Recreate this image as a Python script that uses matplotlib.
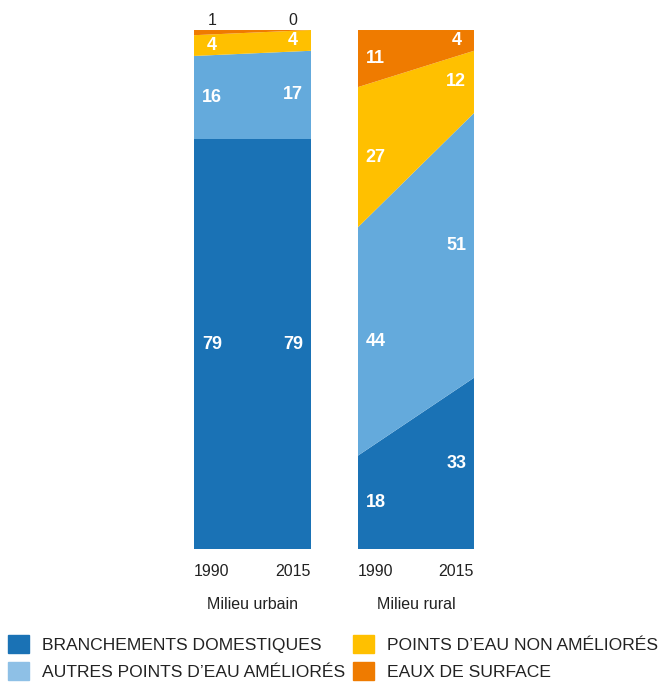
import matplotlib.pyplot as plt
from matplotlib.patches import Patch

plt.rcParams['font.family'] = ['Liberation Sans', 'DejaVu Sans']

# Données (%) 1990 et 2015
years = [1990, 2015]
categories = ["BRANCHEMENTS DOMESTIQUES", "AUTRES POINTS D\u2019EAU AMÉLIORÉS",
              "POINTS D\u2019EAU NON AMÉLIORÉS", "EAUX DE SURFACE"]
urbain = [[79, 79], [16, 17], [4, 4], [1, 0]]
rural = [[18, 33], [44, 51], [27, 12], [11, 4]]
panels = ["Milieu urbain", "Milieu rural"]

colors = ['#1a72b5', '#64aadc', '#ffc000', '#ef7b00']
legend_colors = ['#1a72b5', '#8ec0e6', '#ffc000', '#ef7b00']

fig = plt.figure(figsize=(6.66, 6.82), dpi=100)
ax_u = fig.add_axes([0.2913, 0.195, 0.1757, 0.761])
ax_r = fig.add_axes([0.5375, 0.195, 0.1742, 0.761])

x_lab = [1993.8, 2011.2]

for ax, data, name in [(ax_u, urbain, panels[0]), (ax_r, rural, panels[1])]:
    ax.stackplot(years, *data, colors=colors, linewidth=0)
    ax.set_xlim(1990, 2015)
    ax.set_ylim(0, 100)
    ax.axis('off')
    # étiquettes des valeurs
    for j in range(2):
        base = 0
        for i, serie in enumerate(data):
            v = serie[j]
            if i == 3 and data is urbain:
                ax.text(x_lab[j], 100.4, str(v), ha='center', va='bottom',
                        color='#222222', fontsize=11.5)
            else:
                ax.text(x_lab[j], base + v / 2, str(v), ha='center', va='center',
                        color='white', fontsize=13, fontweight='bold')
            base += v
        ax.text(x_lab[j], -2.8, str(years[j]), ha='center', va='top',
                color='#222222', fontsize=11.5)
    ax.text(2002.5, -9.2, name, ha='center', va='top', color='#222222',
            fontsize=11.5)
    for t in ax.texts:
        t.set_clip_on(False)

handles = [Patch(color=c) for c in legend_colors]
leg_kw = dict(loc='lower left', frameon=False, fontsize=12.6, handlelength=1.2,
              handleheight=1.2, handletextpad=0.75, labelspacing=0.5,
              borderaxespad=0, borderpad=0)
leg1 = fig.legend(handles[:2], categories[:2], bbox_to_anchor=(0.012, 0.003),
                  **leg_kw)
leg2 = fig.legend(handles[2:], categories[2:], bbox_to_anchor=(0.53, 0.003),
                  **leg_kw)
for leg in (leg1, leg2):
    for t in leg.get_texts():
        t.set_color('#222222')

plt.savefig("out.png", dpi=100)
